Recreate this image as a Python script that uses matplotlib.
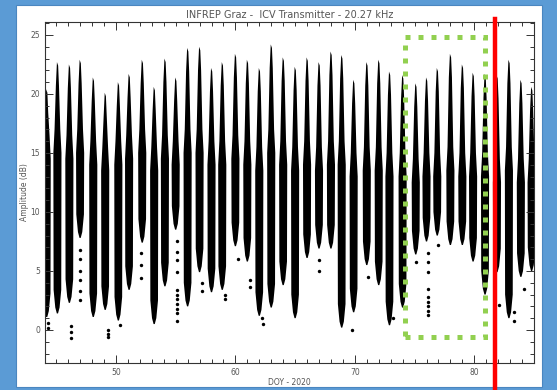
import matplotlib
matplotlib.use('Agg')
import matplotlib.pyplot as plt
from matplotlib.patches import Rectangle
from matplotlib.ticker import MultipleLocator
import numpy as np

###  DATA  ###

# day-of-year of each daily maximum and the amplitude levels (dB)
peak_doy = [44.2, 45.1, 46.1, 47.0, 48.1, 49.1, 50.2, 51.1, 52.2, 53.2, 54.1,
            55.0, 56.0, 57.0, 58.0, 58.9, 60.0, 61.0, 62.0, 63.0, 64.0, 65.0,
            66.0, 67.0, 68.0, 68.9, 69.9, 71.0, 72.0, 72.9, 74.0, 75.1, 76.0,
            76.9, 78.0, 79.0, 79.9, 80.9, 81.9, 82.9, 83.9, 84.8]
peak_amp = [20.4, 22.7, 22.5, 22.9, 21.4, 20.1, 21.0, 21.7, 22.9, 20.6, 23.0,
            21.4, 23.9, 24.0, 22.2, 22.7, 23.4, 22.9, 22.2, 24.2, 23.1, 22.3,
            23.1, 22.7, 23.6, 23.3, 21.2, 22.7, 22.9, 21.9, 21.6, 20.9, 21.4,
            22.2, 23.4, 22.5, 21.8, 21.7, 21.6, 22.9, 21.2, 20.6]
mid_amp = [16.0, 16.5, 16.0, 16.5, 15.5, 15.0, 15.5, 16.0, 16.5, 15.0, 16.0,
           15.5, 16.5, 16.5, 15.5, 15.5, 16.0, 15.5, 15.0, 16.5, 15.5, 15.0,
           15.5, 15.0, 15.5, 15.5, 14.5, 15.0, 15.0, 14.5, 14.5, 14.0, 14.5,
           14.5, 15.0, 14.5, 14.5, 14.5, 14.0, 15.0, 14.0, 14.0]
low_amp = [1.1, 1.4, 2.3, 7.8, 1.1, 1.7, 0.8, 3.4, 7.4, 0.5, 3.7,
           8.5, 2.0, 4.9, 3.2, 3.4, 7.1, 5.8, 1.2, 1.9, 3.8, 1.0,
           6.1, 6.9, 6.9, 0.2, 1.5, 5.5, 3.8, 0.4, 1.9, 6.4, 7.5,
           8.0, 7.2, 7.2, 5.8, 3.0, 4.9, 1.0, 4.5, 5.0]

# isolated low samples
out_doy = [44.3, 44.3, 46.2, 46.2, 46.2, 47.0, 47.0, 47.0, 47.0, 47.0, 47.0,
           49.3, 49.3, 49.3, 50.3, 52.1, 52.1, 52.1,
           55.1, 55.1, 55.1, 55.1, 55.1, 55.1, 55.1, 55.1, 55.1, 55.1, 55.1,
           57.2, 57.2, 59.1, 59.1, 60.2, 61.2, 61.2, 62.2, 62.3, 67.0, 67.0,
           69.8, 71.1, 73.2, 75.1,
           76.1, 76.1, 76.1, 76.1, 76.1, 76.1, 76.1, 76.1, 76.1,
           77.0, 82.1, 83.3, 83.3, 84.2]
out_amp = [0.6, 0.2, 0.3, -0.2, -0.7, 6.8, 6.0, 5.0, 4.2, 3.3, 2.5,
           0.0, -0.3, -0.6, 0.4, 6.5, 5.5, 4.4,
           7.5, 6.6, 5.9, 4.9, 3.4, 3.0, 2.6, 2.2, 1.8, 1.4, 0.8,
           4.0, 3.3, 2.6, 3.0, 6.0, 4.2, 3.6, 1.0, 0.5, 5.9, 5.0,
           0.0, 4.5, 1.0, 5.8,
           6.5, 5.8, 4.9, 3.5, 2.8, 2.4, 2.0, 1.6, 1.3,
           7.2, 2.1, 0.8, 1.5, 3.5]

box_doy = [74.2, 80.9]
box_amp = [-0.6, 24.8]
event_doy = 81.7

###  PLOT  ###

fig = plt.figure(figsize=(5.57, 3.9), dpi=100, facecolor='#5b9bd5')
fig.patches.append(Rectangle((16/557, 3/390), 526/557, 382/390, transform=fig.transFigure,
                             facecolor='white', edgecolor='#4a86c0', lw=0.8, zorder=-10))
ax = fig.add_axes([45/557, 27/390, 489/557, 341/390])
ax.set_facecolor('white')

# each day drawn as a dense block: narrow spike at the top, wide body below
for x, p, m, lo in zip(peak_doy, peak_amp, mid_amp, low_amp):
    xs = [x - 0.04, x + 0.06, x + 0.13, x + 0.24, x + 0.34, x + 0.32, x + 0.18, x + 0.05,
          x - 0.05, x - 0.18, x - 0.32, x - 0.34, x - 0.24, x - 0.13]
    ys = [p, p - 0.3, p - 2.0, m + 0.5, m - 1.5, lo + 2.0, lo + 0.5, lo,
          lo, lo + 0.5, lo + 2.0, m - 1.5, m + 0.5, p - 2.0]
    ax.fill(xs, ys, color='black', lw=0)

ax.scatter(out_doy, out_amp, s=6, color='black', lw=0)

ax.add_patch(Rectangle((box_doy[0], box_amp[0]), box_doy[1] - box_doy[0], box_amp[1] - box_amp[0],
                       fill=False, edgecolor='#92d050', lw=3.6, linestyle=(0, (1, 1.6)),
                       capstyle='butt', zorder=5))
ax.axvline(event_doy, ymin=-0.08, ymax=1.01, color='#ff0000', lw=3.2, clip_on=False, zorder=6)

ax.set_xlim(44.06, 85.0)
ax.set_ylim(-2.8, 26.1)
ax.xaxis.set_major_locator(MultipleLocator(10))
ax.xaxis.set_minor_locator(MultipleLocator(1))
ax.yaxis.set_major_locator(MultipleLocator(5))
ax.yaxis.set_minor_locator(MultipleLocator(1))
ax.tick_params(which='both', direction='in', top=True, right=True, color='#333333',
               labelsize=5.5, labelcolor='#555555', width=0.7)
ax.tick_params(which='major', length=6)
ax.tick_params(which='minor', length=3)
for s in ax.spines.values():
    s.set_color('#333333')
    s.set_linewidth(0.8)

ax.set_title('INFREP Graz -  ICV Transmitter - 20.27 kHz', fontsize=7, color='#555555', pad=3)
ax.set_xlabel('DOY - 2020', fontsize=5.5, color='#555555', labelpad=1)
ax.set_ylabel('Amplitude (dB)', fontsize=5.5, color='#555555', labelpad=1)

fig.savefig('out.png', dpi=100, facecolor=fig.get_facecolor())
